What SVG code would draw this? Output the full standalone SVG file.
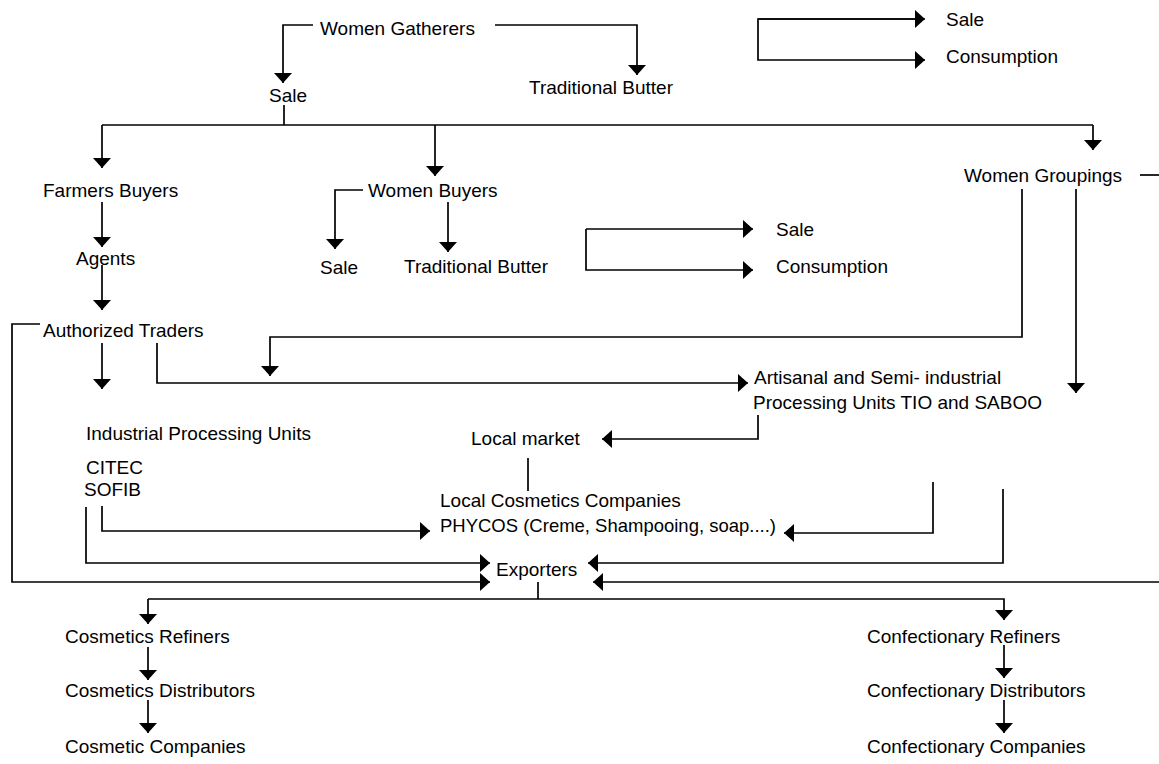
<svg xmlns="http://www.w3.org/2000/svg" width="1159" height="764" viewBox="0 0 1159 764">
<defs>
<style>
text{font-family:"Liberation Sans",Arial,sans-serif;font-size:19px;fill:#000}
.c{fill:none;stroke:#000;stroke-width:1.7}
.a{marker-end:url(#ah)}
</style>
<marker id="ah" viewBox="0 0 10 18" refX="10" refY="9" markerWidth="10" markerHeight="18" markerUnits="userSpaceOnUse" orient="auto">
<path d="M0,0 L10,9 L0,18 z" fill="#000"/>
</marker>
</defs>
<rect width="1159" height="764" fill="#fff"/>
<g id="connectors">
<path class="c a" d="M313,25 H283 V83"/>
<path class="c a" d="M495,25 H637 V75"/>
<path class="c a" d="M916,19 H758 V60 H925"/>
<path class="c a" d="M758,19 H925"/>
<path class="c" d="M284,105 V125"/>
<path class="c" d="M102,125 H1093"/>
<path class="c a" d="M102,125 V168"/>
<path class="c a" d="M435,125 V176"/>
<path class="c a" d="M1093,125 V150"/>
<path class="c a" d="M363,190 H335 V249"/>
<path class="c a" d="M448,202 V252"/>
<path class="c a" d="M102,202 V247"/>
<path class="c a" d="M102,265 V310"/>
<path class="c a" d="M102,343 V389"/>
<path class="c a" d="M586,229 H753"/>
<path class="c a" d="M586,229 V270 H753"/>
<path class="c" d="M1140,175 H1159"/>
<path class="c a" d="M1022,189 V337 H270 V376"/>
<path class="c a" d="M1076,189 V393"/>
<path class="c a" d="M157,343 V383 H748"/>
<path class="c a" d="M758,415 V439 H602"/>
<path class="c" d="M528,458 V491"/>
<path class="c a" d="M102,506 V531 H430"/>
<path class="c a" d="M86,507 V563 H490"/>
<path class="c a" d="M40,324 H12 V582 H490"/>
<path class="c a" d="M933,482 V533 H784"/>
<path class="c a" d="M1003,489 V563 H588"/>
<path class="c a" d="M1159,582 H593"/>
<path class="c" d="M538,582 V599"/>
<path class="c a" d="M148,599 H1004 V620"/>
<path class="c a" d="M148,599 V624"/>
<path class="c a" d="M148,647 V680"/>
<path class="c a" d="M148,700 V733"/>
<path class="c a" d="M1004,645 V678"/>
<path class="c a" d="M1004,700 V733"/>
</g>
<g id="n-women-gatherers"><text x="320" y="35">Women Gatherers</text></g>
<g id="n-sale1"><text x="269" y="102">Sale</text></g>
<g id="n-trad-butter1"><text x="529" y="94">Traditional Butter</text></g>
<g id="n-sale-top"><text x="946" y="26">Sale</text></g>
<g id="n-consumption-top"><text x="946" y="63">Consumption</text></g>
<g id="n-farmers-buyers"><text x="43" y="197">Farmers Buyers</text></g>
<g id="n-women-buyers"><text x="368" y="197">Women Buyers</text></g>
<g id="n-women-groupings"><text x="964" y="182">Women Groupings</text></g>
<g id="n-agents"><text x="76" y="265">Agents</text></g>
<g id="n-sale2"><text x="320" y="274">Sale</text></g>
<g id="n-trad-butter2"><text x="404" y="273">Traditional Butter</text></g>
<g id="n-sale-mid"><text x="776" y="236">Sale</text></g>
<g id="n-consumption-mid"><text x="776" y="273">Consumption</text></g>
<g id="n-authorized-traders"><text x="43" y="337">Authorized Traders</text></g>
<g id="n-artisanal"><text x="754" y="384">Artisanal and Semi- industrial</text><text x="753" y="409">Processing Units TIO and SABOO</text></g>
<g id="n-industrial"><text x="86" y="440">Industrial Processing Units</text><text x="86" y="474">CITEC</text><text x="84" y="496">SOFIB</text></g>
<g id="n-local-market"><text x="471" y="445">Local market</text></g>
<g id="n-local-cosmetics"><text x="440" y="507">Local Cosmetics Companies</text><text x="440" y="532" textLength="336" lengthAdjust="spacingAndGlyphs">PHYCOS (Creme, Shampooing, soap....)</text></g>
<g id="n-exporters"><text x="496" y="576">Exporters</text></g>
<g id="n-cos-refiners"><text x="65" y="643">Cosmetics Refiners</text></g>
<g id="n-cos-distributors"><text x="65" y="697">Cosmetics Distributors</text></g>
<g id="n-cos-companies"><text x="65" y="753">Cosmetic Companies</text></g>
<g id="n-conf-refiners"><text x="867" y="643">Confectionary Refiners</text></g>
<g id="n-conf-distributors"><text x="867" y="697">Confectionary Distributors</text></g>
<g id="n-conf-companies"><text x="867" y="753">Confectionary Companies</text></g>
</svg>
